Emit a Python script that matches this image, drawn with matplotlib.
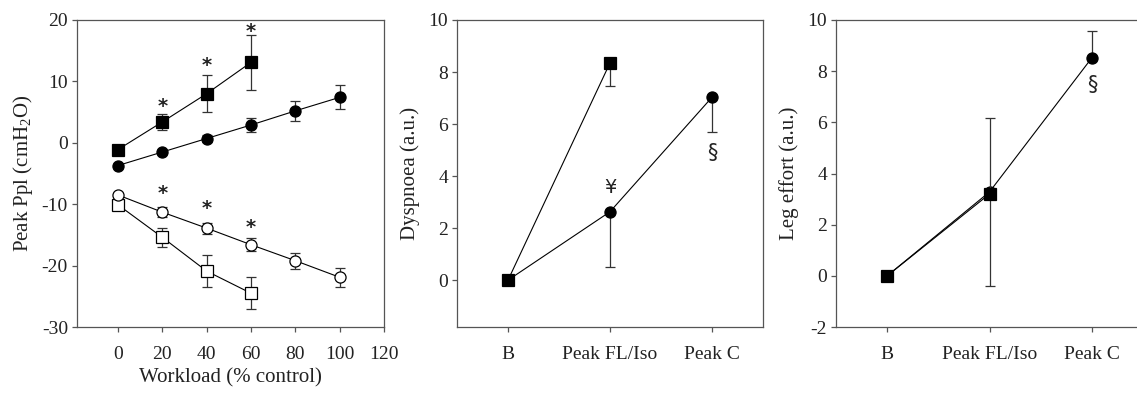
import matplotlib
matplotlib.use('Agg')
import matplotlib.pyplot as plt

plt.rcParams['font.family'] = ['Liberation Serif', 'DejaVu Sans']
plt.rcParams['mathtext.fontset'] = 'custom'
plt.rcParams['mathtext.rm'] = 'Liberation Serif'
plt.rcParams['mathtext.it'] = 'Liberation Serif:italic'
plt.rcParams['axes.unicode_minus'] = False

# ---------------- Panel 1 data: Peak Ppl vs workload ----------------
workload_c = [0, 20, 40, 60, 80, 100]
workload_fl = [0, 20, 40, 60]
fl_insp = [-1.1, 3.4, 8.0, 13.1]
fl_insp_err = [0.0, 1.3, 3.0, 4.5]
c_insp = [-3.7, -1.5, 0.7, 2.9, 5.2, 7.4]
c_insp_err = [0.3, 0.4, 0.6, 1.2, 1.6, 1.95]
c_exp = [-8.5, -11.3, -13.9, -16.6, -19.2, -21.9]
c_exp_err = [0.4, 0.8, 0.9, 1.1, 1.3, 1.55]
fl_exp = [-10.1, -15.4, -20.9, -24.5]
fl_exp_err = [0.4, 1.6, 2.65, 2.6]
star_x = [20, 40, 60]
star_insp_y = [5.9, 12.6, 18.2]
star_exp_y = [-8.3, -10.7, -13.8]
p1_xticks = [0, 20, 40, 60, 80, 100, 120]
p1_yticks = [-30, -20, -10, 0, 10, 20]

# ---------------- Panel 2 data: Dyspnoea ----------------
stages = ['B', 'Peak FL/Iso', 'Peak C']
dys_fl = [0.0, 8.35]
dys_fl_err_low = [0.0, 0.87]
dys_c = [0.0, 2.63, 7.03]
dys_c_err_low = [0.0, 2.14, 1.34]
p2_yticks = [0, 2, 4, 6, 8, 10]

# ---------------- Panel 3 data: Leg effort ----------------
leg_fl = [0.0, 3.2]
leg_fl_err_low = [0.0, 3.59]
leg_fl_err_up = [0.0, 2.97]
leg_c = [0.0, 3.28, 8.52]
leg_c_err_up = [0.0, 0.0, 1.05]
p3_yticks = [-2, 0, 2, 4, 6, 8, 10]

TXT = '#222222'
SP = '#555555'
FS = 14
LFS = 15

fig = plt.figure(figsize=(11.37, 3.98), dpi=100)
W, H = 1137, 398
bot = 1 - 327 / H
top = 1 - 20 / H
hgt = top - bot
ax1 = fig.add_axes([77 / W, bot, (384 - 77) / W, hgt])
ax2 = fig.add_axes([457 / W, bot, (763 - 457) / W, hgt])
ax3 = fig.add_axes([836 / W, bot, 307 / W, hgt])

def style(ax):
    for s in ax.spines.values():
        s.set_color(SP)
        s.set_linewidth(0.9)
    ax.tick_params(direction='out', length=3.5, width=0.9, color=SP,
                   labelcolor=TXT, labelsize=FS)
    ax.tick_params(axis='x', pad=10)
    ax.tick_params(axis='y', pad=3)

eb = dict(color='black', ecolor='#333333', elinewidth=0.9, capsize=3.5,
          capthick=0.9, linewidth=0.8, markersize=8, markeredgewidth=0.9)

# Panel 1
ax1.errorbar(workload_fl, fl_exp, yerr=fl_exp_err, marker='s', mfc='white', mec='black', zorder=3, **eb)
ax1.errorbar(workload_c, c_exp, yerr=c_exp_err, marker='o', mfc='white', mec='black', zorder=4, **eb)
ax1.errorbar(workload_fl, fl_insp, yerr=fl_insp_err, marker='s', mfc='black', mec='black', zorder=3, **eb)
ax1.errorbar(workload_c, c_insp, yerr=c_insp_err, marker='o', mfc='black', mec='black', zorder=3, **eb)
for x, y in zip(star_x, star_insp_y):
    ax1.text(x, y, '*', ha='center', va='center', fontsize=14, color=TXT,
             family='DejaVu Sans', fontweight='bold')
for x, y in zip(star_x, star_exp_y):
    ax1.text(x, y, '*', ha='center', va='center', fontsize=14, color=TXT,
             family='DejaVu Sans', fontweight='bold')
ax1.set_xlim(-18.5, 120)
ax1.set_ylim(-30, 20)
ax1.set_xticks(p1_xticks)
ax1.set_yticks(p1_yticks)
ax1.set_xlabel('Workload (% control)', fontsize=LFS, color=TXT, labelpad=4)
ax1.set_ylabel(r'Peak Ppl (cmH$_2$O)', fontsize=LFS, color=TXT, labelpad=5)
style(ax1)

# Panel 2
xc = list(range(len(stages)))
ax2.errorbar(xc, dys_c, yerr=[dys_c_err_low, [0] * 3], marker='o', mfc='black', mec='black', zorder=3, **eb)
ax2.errorbar(xc[:2], dys_fl, yerr=[dys_fl_err_low, [0] * 2], marker='s', mfc='black', mec='black', zorder=4, **eb)
ax2.text(1, 3.55, '¥', ha='center', va='center', fontsize=14, color=TXT, family='DejaVu Sans')
ax2.text(2, 4.9, '§', ha='center', va='center', fontsize=15, color=TXT, family='DejaVu Sans')
ax2.set_xlim(-0.5, 2.5)
ax2.set_ylim(-1.8, 10)
ax2.set_xticks(xc)
ax2.set_xticklabels(stages)
ax2.set_yticks(p2_yticks)
ax2.set_ylabel('Dyspnoea (a.u.)', fontsize=LFS, color=TXT, labelpad=6)
style(ax2)

# Panel 3
ax3.errorbar(xc, leg_c, yerr=[[0] * 3, leg_c_err_up], marker='o', mfc='black', mec='black', zorder=3, **eb)
ax3.errorbar(xc[:2], leg_fl, yerr=[leg_fl_err_low, leg_fl_err_up], marker='s', mfc='black', mec='black', zorder=4, **eb)
ax3.text(2, 7.44, '§', ha='center', va='center', fontsize=15, color=TXT, family='DejaVu Sans')
ax3.set_xlim(-0.5, 2.5)
ax3.set_ylim(-2, 10)
ax3.set_xticks(xc)
ax3.set_xticklabels(stages)
ax3.set_yticks(p3_yticks)
ax3.set_ylabel('Leg effort (a.u.)', fontsize=LFS, color=TXT, labelpad=6)
style(ax3)

fig.savefig('out.png', dpi=100, facecolor='white')
